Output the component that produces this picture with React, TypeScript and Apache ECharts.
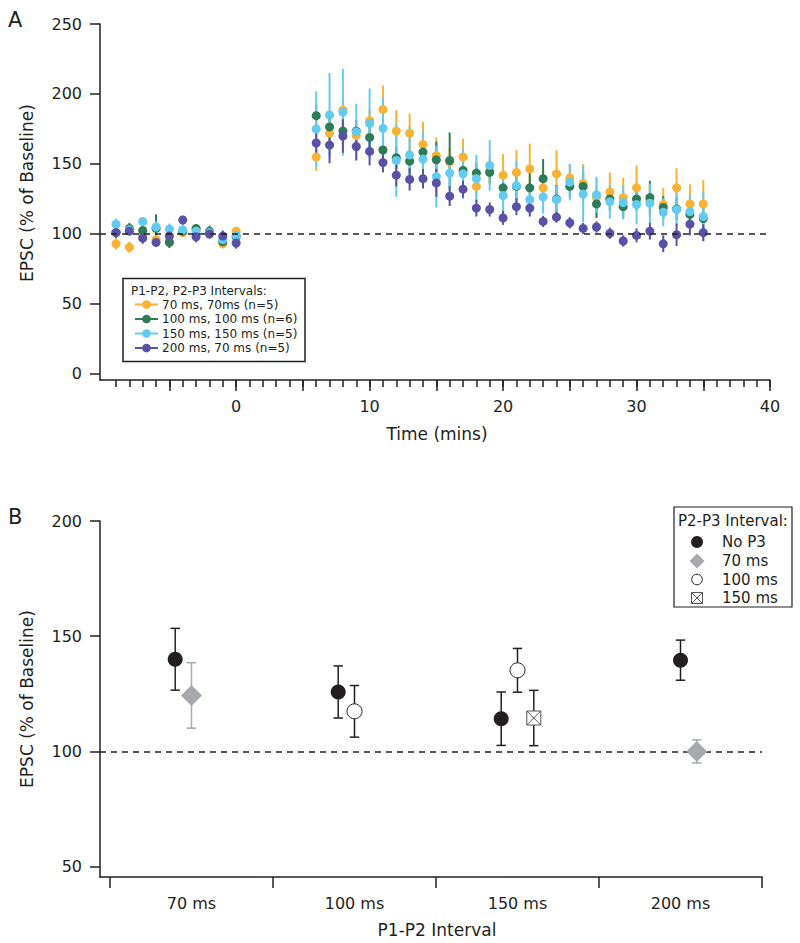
import React, { useEffect, useRef } from "react";
import * as echarts from "echarts";

const FONT = "DejaVu Sans";
const INK = "#231f20";

// ---------- Panel A data ----------
const timeBaseline = [-9, -8, -7, -6, -5, -4, -3, -2, -1, 0];
const timePost = [6, 7, 8, 9, 10, 11, 12, 13, 14, 15, 16, 17, 18, 19, 20, 21, 22, 23, 24, 25, 26, 27, 28, 29, 30, 31, 32, 33, 34, 35];
const times = [...timeBaseline, ...timePost];

const groupNames = ["70 ms, 70ms (n=5)", "100 ms, 100 ms (n=6)", "150 ms, 150 ms (n=5)", "200 ms, 70 ms (n=5)"];
const groupColors = ["#F9B233", "#2E7B57", "#64CBF0", "#5951A6"];

const mean70 = [93, 90.5, 99, 96, 95, 101, 103, 101, 93, 102,
  155, 172, 188.5, 170.5, 181, 189, 173.5, 172, 164, 156,
  151.5, 155, 134, 145, 142, 144, 146.5, 133, 143, 140,
  136, 126, 130, 126, 133, 124, 121, 133, 121.5, 121.5];
const sem70 = [4, 4, 3, 3, 3, 3, 3, 3, 3, 3,
  10, 10, 8, 6, 8, 17, 15, 14, 16, 13,
  10, 13, 8, 10, 15, 16, 18, 12, 17, 10,
  14, 14, 14, 14, 16, 12, 12, 14, 14, 17];

const mean100 = [101, 104, 102.5, 104, 94, 102, 104, 102, 94.5, 98,
  184.5, 176.5, 173.5, 173.5, 169, 160, 154.5, 152, 158.5, 153,
  152.5, 145.5, 143.5, 144, 133, 134, 133, 139.5, 125, 134,
  134, 121.5, 125, 119.5, 125, 126, 119, 118, 114, 111];
const sem100 = [3, 4, 4, 10, 4, 3, 3, 4, 4, 3,
  8, 8, 10, 8, 10, 10, 8, 8, 8, 13,
  20, 8, 8, 8, 8, 10, 12, 14, 10, 8,
  10, 10, 8, 8, 8, 12, 8, 8, 8, 8];

const mean150 = [107, 103, 109, 105, 103.5, 103, 102, 101, 96, 99,
  175, 185, 187, 173, 179, 175.5, 152.5, 156.5, 153.5, 141,
  143.5, 143, 139.5, 149, 127.5, 134.5, 124.5, 126.5, 124.5, 137,
  128.5, 128, 123, 122.5, 121, 122, 115.5, 117.5, 116, 112.5];
const sem150 = [4, 3, 3, 4, 4, 4, 3, 3, 4, 4,
  27, 30, 31, 20, 25, 22, 26, 20, 20, 22,
  12, 18, 17, 18, 15, 18, 10, 12, 10, 13,
  20, 13, 12, 12, 14, 14, 10, 12, 12, 18];

const mean200 = [101, 102, 97, 94, 98.5, 110, 98, 100, 98.5, 93.5,
  165, 163.5, 170, 162.5, 159, 151, 142, 139, 139.5, 136.5,
  127, 132, 118.5, 117.5, 111.5, 119.5, 118.5, 109, 112, 108,
  104, 105, 100.5, 95, 99, 102, 93, 99.5, 107, 101];
const sem200 = [4, 3, 4, 3, 4, 3, 4, 3, 4, 4,
  10, 13, 12, 10, 10, 7, 8, 8, 7, 10,
  7, 6, 6, 5, 5, 6, 6, 4, 4, 4,
  4, 4, 4, 4, 5, 6, 6, 8, 8, 6];

const groupMeans = [mean70, mean100, mean150, mean200];
const groupSems = [sem70, sem100, sem150, sem200];

const yTicksA = [0, 50, 100, 150, 200, 250];
const xLabelsA = [0, 10, 20, 30, 40];
const xMajorTicksA = [-5, 0, 5, 10, 15, 20, 25, 30, 35, 40];
const xMinorTicksA = [-9, -8, -7, -6, -5, -4, -3, -2, -1, 0, 1, 2, 3, 4, 5, 6, 7, 8, 9, 10, 11, 12, 13, 14, 15, 16, 17, 18, 19, 20, 21, 22, 23, 24, 25, 26, 27, 28, 29, 30, 31, 32, 33, 34, 35, 36, 37, 38, 39, 40];
const baseline = 100;

// ---------- Panel B data ----------
const intervalLabels = ["70 ms", "100 ms", "150 ms", "200 ms"];
const p3Names = ["No P3", "70 ms", "100 ms", "150 ms"];
const noP3Mean = [140, 125.8, 114.2, 139.6];
const noP3Sem = [13.4, 11.3, 11.6, 8.7];
const p3of70Mean = [124.3, null, null, 100];
const p3of70Sem = [14.2, null, null, 5];
const p3of100Mean = [null, 117.4, 135.2, null];
const p3of100Sem = [null, 11.2, 9.5, null];
const p3of150Mean = [null, null, 114.5, null];
const p3of150Sem = [null, null, 12, null];
const yTicksB = [50, 100, 150, 200];
const xTicksB = [0, 1, 2, 3, 4];
const xLabelPosB = [0.5, 1.5, 2.5, 3.5];

// layout: horizontal slot offsets within each category (fraction of a category)
const slotNoP3 = [-0.1, -0.1, -0.1, 0];
const slot70 = [0, 0, 0, 0.1];
const slot100 = [0, 0, 0, 0];
const slot150 = [0.1, 0.1, 0.1, 0.1];

function pointsB(means: (number | null)[], sems: (number | null)[], slots: number[]) {
  const out: number[][] = [];
  means.forEach((m, i) => {
    if (m == null) return;
    out.push([i + 0.5 + slots[i], m, sems[i] as number]);
  });
  return out;
}

function errRender(color: string, width: number, capHalf: number) {
  return (params: any, api: any) => {
    const x = api.value(0);
    const y = api.value(1);
    const e = api.value(2);
    const top = api.coord([x, y + e]);
    const bot = api.coord([x, y - e]);
    const style = { stroke: color, lineWidth: width };
    const children: any[] = [
      { type: "line", shape: { x1: top[0], y1: top[1], x2: bot[0], y2: bot[1] }, style },
    ];
    if (capHalf > 0) {
      children.push({ type: "line", shape: { x1: top[0] - capHalf, y1: top[1], x2: top[0] + capHalf, y2: top[1] }, style });
      children.push({ type: "line", shape: { x1: bot[0] - capHalf, y1: bot[1], x2: bot[0] + capHalf, y2: bot[1] }, style });
    }
    return { type: "group", children };
  };
}

const dashStyle = { color: INK, width: 1.5, type: [6, 5] as any };

function buildOption() {
  const series: any[] = [];

  groupNames.forEach((name, gi) => {
    const data = times.map((t, i) => [t, groupMeans[gi][i], groupSems[gi][i]]);
    series.push({
      type: "custom",
      name: name + " err",
      xAxisIndex: 0,
      yAxisIndex: 0,
      silent: true,
      renderItem: errRender(groupColors[gi], 2, 0),
      encode: { x: 0, y: 1 },
      data,
    });
    const s: any = {
      type: "scatter",
      name,
      xAxisIndex: 0,
      yAxisIndex: 0,
      symbol: "circle",
      symbolSize: 9,
      itemStyle: { color: groupColors[gi], opacity: 1 },
      data: data.map((d) => [d[0], d[1]]),
    };
    if (gi === 0) {
      s.markLine = {
        silent: true,
        symbol: ["none", "none"],
        label: { show: false },
        lineStyle: dashStyle,
        data: [{ yAxis: baseline }],
      };
    }
    series.push(s);
  });

  const bSets = [
    { name: p3Names[0], pts: pointsB(noP3Mean, noP3Sem, slotNoP3), err: INK, symbol: "circle", size: 15, color: INK, border: INK, bw: 0 },
    { name: p3Names[1], pts: pointsB(p3of70Mean, p3of70Sem, slot70), err: "#A7A9AC", symbol: "diamond", size: 21, color: "#A7A9AC", border: "#A7A9AC", bw: 0 },
    { name: p3Names[2], pts: pointsB(p3of100Mean, p3of100Sem, slot100), err: INK, symbol: "circle", size: 15, color: "#ffffff", border: INK, bw: 1 },
    { name: p3Names[3], pts: pointsB(p3of150Mean, p3of150Sem, slot150), err: INK, symbol: "path://M0 0H20V20H0ZM0 0L20 20M20 0L0 20", size: 14, color: "#ffffff", border: "#555555", bw: 1 },
  ];

  bSets.forEach((b, bi) => {
    series.push({
      type: "custom",
      name: b.name + " err",
      xAxisIndex: 2,
      yAxisIndex: 1,
      silent: true,
      renderItem: errRender(b.err, 1.5, 4.7),
      encode: { x: 0, y: 1 },
      data: b.pts,
      z: 3,
    });
    const s: any = {
      type: "scatter",
      name: b.name,
      xAxisIndex: 2,
      yAxisIndex: 1,
      symbol: b.symbol,
      symbolSize: b.size,
      itemStyle: { color: b.color, borderColor: b.border, borderWidth: b.bw, opacity: 1 },
      data: b.pts.map((p) => [p[0], p[1]]),
      z: 4,
    };
    if (bi === 0) {
      s.markLine = {
        silent: true,
        symbol: ["none", "none"],
        label: { show: false },
        lineStyle: dashStyle,
        data: [{ yAxis: baseline }],
        z: 1,
      };
    }
    series.push(s);
  });

  const axLine = { show: true, onZero: false, lineStyle: { color: INK, width: 1.5 } };
  const tickStyle = { color: INK, width: 1.5 };
  const labelFont = { fontFamily: FONT, fontSize: 16, color: INK };

  const txt = (text: string, x: number, y: number, size: number, align = "left", extra: any = {}) => ({
    type: "text",
    x,
    y,
    z: 100,
    ...extra,
    style: { text, fontFamily: FONT, fontSize: size, fill: INK, align, verticalAlign: "middle" },
  });

  const legendA: any[] = [
    { type: "rect", z: 99, shape: { x: 123, y: 278.5, width: 182, height: 83 }, style: { fill: "#ffffff", stroke: INK, lineWidth: 1.5 } },
    txt("P1-P2, P2-P3 Intervals:", 131, 291, 12),
  ];
  const legAy = [304.5, 319, 333.5, 348];
  groupNames.forEach((n, gi) => {
    legendA.push({ type: "line", z: 100, shape: { x1: 135, y1: legAy[gi], x2: 158, y2: legAy[gi] }, style: { stroke: groupColors[gi], lineWidth: 2 } });
    legendA.push({ type: "circle", z: 101, shape: { cx: 146.5, cy: legAy[gi], r: 4.3 }, style: { fill: groupColors[gi] } });
    legendA.push(txt(n, 162, legAy[gi], 12));
  });

  const legBy = [542, 561, 579.5, 598];
  const sx = 697;
  const legendB: any[] = [
    { type: "rect", z: 99, shape: { x: 674, y: 507, width: 118, height: 100 }, style: { fill: "#ffffff", stroke: INK, lineWidth: 1.2 } },
    txt("P2-P3 Interval:", 678, 521, 15),
    { type: "circle", z: 100, shape: { cx: sx, cy: legBy[0], r: 6 }, style: { fill: INK } },
    { type: "polygon", z: 100, shape: { points: [[sx, legBy[1] - 7.5], [sx + 7.5, legBy[1]], [sx, legBy[1] + 7.5], [sx - 7.5, legBy[1]]] }, style: { fill: "#A7A9AC" } },
    { type: "circle", z: 100, shape: { cx: sx, cy: legBy[2], r: 5.3 }, style: { fill: "#ffffff", stroke: INK, lineWidth: 1 } },
    { type: "rect", z: 100, shape: { x: sx - 5.5, y: legBy[3] - 5.5, width: 11, height: 11 }, style: { fill: "#ffffff", stroke: "#555555", lineWidth: 1 } },
    { type: "line", z: 101, shape: { x1: sx - 5.5, y1: legBy[3] - 5.5, x2: sx + 5.5, y2: legBy[3] + 5.5 }, style: { stroke: "#555555", lineWidth: 1 } },
    { type: "line", z: 101, shape: { x1: sx + 5.5, y1: legBy[3] - 5.5, x2: sx - 5.5, y2: legBy[3] + 5.5 }, style: { stroke: "#555555", lineWidth: 1 } },
  ];
  p3Names.forEach((n, i) => legendB.push(txt(n, 722, legBy[i], 15)));

  const graphics: any[] = [
    txt("A", 8, 20, 21),
    txt("B", 8, 517, 21),
    txt("EPSC (% of Baseline)", 27, 193, 17, "center", { rotation: Math.PI / 2 }),
    txt("Time (mins)", 437, 434, 17, "center"),
    txt("EPSC (% of Baseline)", 27, 699, 17, "center", { rotation: Math.PI / 2 }),
    txt("P1-P2 Interval", 437, 930, 17, "center"),
    ...legendA,
    ...legendB,
  ];

  return {
    animation: false,
    backgroundColor: "#ffffff",
    textStyle: { fontFamily: FONT },
    grid: [
      { left: 100, top: 24, width: 670, height: 356 },
      { left: 100, top: 521, width: 662, height: 356 },
    ],
    xAxis: [
      {
        type: "value", gridIndex: 0, position: "bottom", min: -10.2, max: 40,
        axisLine: axLine,
        axisTick: { show: true, inside: false, length: 11, lineStyle: tickStyle, customValues: xMajorTicksA },
        axisLabel: { ...labelFont, margin: 18, customValues: xLabelsA },
        splitLine: { show: false },
      },
      {
        type: "value", gridIndex: 0, position: "bottom", offset: 0, min: -10.2, max: 40,
        axisLine: { show: false, onZero: false },
        axisTick: { show: true, inside: false, length: 7, lineStyle: tickStyle, customValues: xMinorTicksA },
        axisLabel: { show: false },
        splitLine: { show: false },
      },
      {
        type: "value", gridIndex: 1, position: "bottom", min: -0.0613, max: 4,
        axisLine: axLine,
        axisTick: { show: true, inside: false, length: 11, lineStyle: tickStyle, customValues: xTicksB },
        axisLabel: { ...labelFont, margin: 18, customValues: xLabelPosB, formatter: (v: number) => intervalLabels[Math.floor(v)] ?? "" },
        splitLine: { show: false },
      },
    ],
    yAxis: [
      {
        type: "value", gridIndex: 0, position: "left", min: -4.3, max: 250,
        axisLine: axLine,
        axisTick: { show: true, inside: false, length: 10, lineStyle: tickStyle, customValues: yTicksA },
        axisLabel: { ...labelFont, margin: 18, customValues: yTicksA },
        splitLine: { show: false },
      },
      {
        type: "value", gridIndex: 1, position: "left", min: 45.5, max: 200,
        axisLine: axLine,
        axisTick: { show: true, inside: false, length: 10, lineStyle: tickStyle, customValues: yTicksB },
        axisLabel: { ...labelFont, margin: 18, customValues: yTicksB },
        splitLine: { show: false },
      },
    ],
    graphic: { elements: graphics },
    series,
  };
}

export default function App() {
  const ref = useRef<HTMLDivElement>(null);
  useEffect(() => {
    if (!ref.current) return;
    const chart = echarts.init(ref.current, undefined, { renderer: "svg" });
    chart.setOption(buildOption() as any);
    return () => chart.dispose();
  }, []);
  return (
    <div
      ref={ref}
      style={{ position: "absolute", left: 0, top: 0, width: 800, height: 943, background: "#fff" }}
    />
  );
}
